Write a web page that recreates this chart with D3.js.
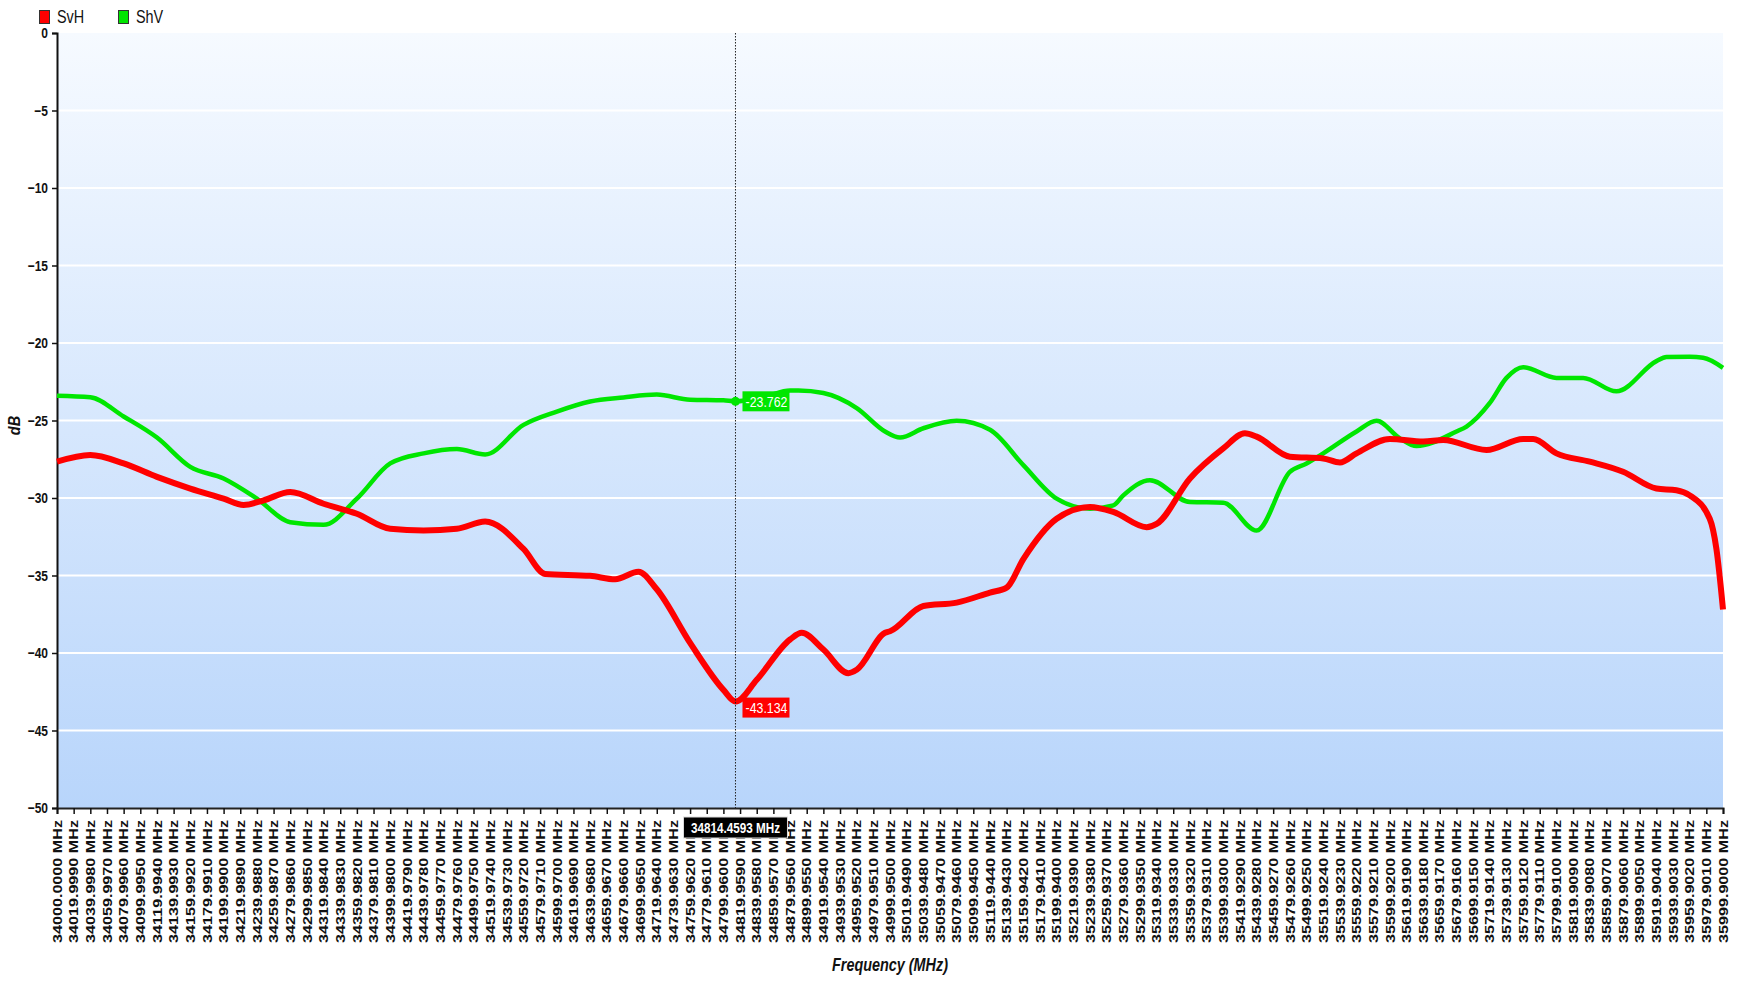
<!DOCTYPE html>
<html>
<head>
<meta charset="utf-8">
<script src="https://cdn.jsdelivr.net/npm/d3@7"></script>
<style>
body { margin: 0; background: #fff; }
svg { display: block; font-family: "Liberation Sans", Arial, sans-serif; }
</style>
</head>
<body>
<svg id="chart" width="1738" height="981"></svg>
<script>
// SvH trace (red)
const svhFreq = [34000, 34040, 34080, 34120, 34160, 34200, 34224, 34248, 34280, 34320, 34360, 34400, 34440, 34480,
    34514, 34560, 34586, 34640, 34670, 34698, 34720, 34760, 34800, 34814.4593, 34840, 34880, 34894, 34920, 34950, 34960, 34994,
    35000, 35040, 35080, 35120, 35140, 35160, 35200, 35240, 35268, 35308, 35320, 35360, 35400, 35426, 35440, 35480,
    35520, 35540, 35560, 35600, 35640, 35664, 35716, 35760, 35772, 35800, 35840, 35880, 35920, 35944, 35960, 35984, 35992, 35999.9];
const svhDb = [-27.66, -27.23, -27.77, -28.64, -29.39, -30.04, -30.45, -30.15, -29.61, -30.37, -31.02, -31.99, -32.10, -31.99,
    -31.52, -33.29, -34.9, -35.02, -35.24, -34.76, -35.89, -39.35, -42.38, -43.134, -41.73, -39.13, -38.7, -39.78, -41.3, -41.08, -38.7,
    -38.6, -36.97, -36.75, -36.1, -35.78, -33.94, -31.34, -30.58, -30.9, -31.88, -31.67, -28.74, -26.8, -25.82, -26.04, -27.34,
    -27.45, -27.71, -27.12, -26.19, -26.36, -26.26, -26.9, -26.19, -26.19, -27.12, -27.66, -28.31, -29.39, -29.5, -29.83, -31.34, -33.29, -37.19];

// ShV trace (green)
const shvFreq = [34000, 34040, 34080, 34120, 34160, 34200, 34240, 34280, 34320, 34360, 34400, 34440, 34480,
    34514, 34560, 34600, 34640, 34680, 34720, 34760, 34800, 34814.4593, 34850, 34880, 34890, 34920, 34960, 34994,
    35012, 35040, 35080, 35120, 35160, 35200, 35240, 35268, 35280, 35312, 35360, 35400, 35440, 35480,
    35500, 35520, 35560, 35584, 35612, 35632, 35680, 35692, 35720, 35740, 35760, 35800, 35832, 35872, 35920, 35932, 35960, 35976, 35999.9];
const shvDb = [-23.4, -23.5, -24.74, -26.1, -27.99, -28.74, -30.04, -31.56, -31.73, -30.04, -27.77, -27.12, -26.84,
    -27.19, -25.28, -24.42, -23.77, -23.51, -23.33, -23.66, -23.7, -23.762, -23.45, -23.07, -23.07, -23.23, -24.2, -25.71,
    -26.1, -25.5, -25.02, -25.6, -27.88, -30.04, -30.69, -30.48, -29.83, -28.85, -30.26, -30.3, -32.1, -28.31,
    -27.77, -27.12, -25.71, -25.02, -26.15, -26.65, -25.71, -25.39, -23.87, -22.25, -21.56, -22.25, -22.25, -23.12, -21.17, -20.91, -20.89, -20.95, -21.6];

const seriesNames = ["SvH", "ShV"];
const seriesColors = ["#ff0000", "#00e600"];
const yTickValues = [0, -5, -10, -15, -20, -25, -30, -35, -40, -45, -50];
const xTickStart = 34000, xTickStep = 19.999, xTickCount = 101;
const cursorFreq = 34814.4593;
const cursorValues = [-43.134, -23.762];

const plotLeft = 57, plotRight = 1723, plotTop = 33, plotBottom = 808;
const svg = d3.select("#chart");

// squeeze text horizontally, the original uses a condensed face
function narrow(sel, k) {
    sel.each(function(){
        var w = this.getComputedTextLength();
        d3.select(this).attr("textLength", w * k).attr("lengthAdjust", "spacingAndGlyphs");
    });
}

var x = d3.scaleLinear().domain([34000, 35999.9]).range([plotLeft, plotRight]);
var y = d3.scaleLinear().domain([-50, 0]).range([plotBottom, plotTop]);

// background gradient
var grad = svg.append("defs").append("linearGradient")
    .attr("id", "bg").attr("x1", 0).attr("y1", 0).attr("x2", 0).attr("y2", 1);
grad.append("stop").attr("offset", "0%").attr("stop-color", "#f6faff");
grad.append("stop").attr("offset", "100%").attr("stop-color", "#b8d5fb");

svg.append("rect")
    .attr("x", plotLeft).attr("y", plotTop)
    .attr("width", plotRight - plotLeft).attr("height", plotBottom - plotTop)
    .attr("fill", "url(#bg)");

// horizontal grid
svg.append("g").selectAll("line")
    .data(yTickValues.filter(function(d){ return d != 0 && d != -50; }))
    .enter().append("line")
    .attr("x1", plotLeft).attr("x2", plotRight)
    .attr("y1", function(d){ return y(d); }).attr("y2", function(d){ return y(d); })
    .attr("stroke", "#ffffff").attr("stroke-width", 2);

// y axis
var yAxis = svg.append("g")
    .attr("transform", "translate(" + plotLeft + ",0)")
    .call(d3.axisLeft(y).tickValues(yTickValues).tickSize(5).tickPadding(4).tickFormat(d3.format("d")));
yAxis.select(".domain").attr("stroke", "#111").attr("stroke-width", 2);
yAxis.selectAll(".tick line").attr("stroke", "#111").attr("stroke-width", 1.5);
yAxis.selectAll("text")
    .attr("fill", "#111").attr("font-size", 15).attr("font-weight", "bold")
    .attr("font-family", "\"Liberation Sans\", Arial, sans-serif")
    .call(narrow, 0.8);

// x axis
var xTicks = d3.range(xTickCount).map(function(i){ return xTickStart + i * xTickStep; });
var xAxis = svg.append("g")
    .attr("transform", "translate(0," + plotBottom + ")")
    .call(d3.axisBottom(x).tickValues(xTicks).tickSize(6)
        .tickFormat(function(d){ return d.toFixed(4) + " MHz"; }));
xAxis.select(".domain").attr("stroke", "#222").attr("stroke-width", 2);
xAxis.selectAll(".tick line").attr("stroke", "#111").attr("stroke-width", 1.5);
xAxis.selectAll("text")
    .attr("transform", "rotate(-90)")
    .attr("text-anchor", "end")
    .attr("x", -12).attr("y", 0).attr("dy", "0.35em")
    .attr("fill", "#111").attr("font-size", 12).attr("font-weight", "bold")
    .attr("font-family", "\"Liberation Sans\", Arial, sans-serif")
    .attr("textLength", 123).attr("lengthAdjust", "spacingAndGlyphs");

// axis titles
svg.append("text")
    .attr("transform", "translate(20," + ((plotTop + plotBottom) / 2 + 5) + ") rotate(-90)")
    .attr("text-anchor", "middle")
    .attr("font-size", 17).attr("font-weight", "bold").attr("font-style", "italic")
    .attr("fill", "#111").text("dB")
    .call(narrow, 0.85);
svg.append("text")
    .attr("x", (plotLeft + plotRight) / 2).attr("y", 971)
    .attr("text-anchor", "middle")
    .attr("font-size", 18).attr("font-weight", "bold").attr("font-style", "italic")
    .attr("fill", "#111").text("Frequency (MHz)")
    .call(narrow, 0.8);

// traces
var line = d3.line()
    .x(function(d){ return x(d[0]); })
    .y(function(d){ return y(d[1]); })
    .curve(d3.curveMonotoneX);

var traces = [
    {name: seriesNames[1], color: seriesColors[1], width: 4.5, pts: d3.zip(shvFreq, shvDb)},
    {name: seriesNames[0], color: seriesColors[0], width: 6, pts: d3.zip(svhFreq, svhDb)}
];
svg.append("g").selectAll("path")
    .data(traces)
    .enter().append("path")
    .attr("d", function(d){ return line(d.pts); })
    .attr("fill", "none")
    .attr("stroke", function(d){ return d.color; })
    .attr("stroke-width", function(d){ return d.width; })
    .attr("stroke-linejoin", "round");

// cursor line
var cx = x(cursorFreq);
svg.append("line")
    .attr("x1", cx).attr("x2", cx).attr("y1", plotTop).attr("y2", plotBottom)
    .attr("stroke", "#222").attr("stroke-width", 1).attr("stroke-dasharray", "1.5,1.5");

// cursor value boxes
var boxes = svg.append("g").selectAll("g")
    .data(cursorValues.map(function(v, i){ return {v: v, color: seriesColors[i], dy: i == 0 ? 6 : 0}; }))
    .enter().append("g")
    .attr("transform", function(d){ return "translate(" + (cx + 7) + "," + (y(d.v) + d.dy) + ")"; });
boxes.append("rect")
    .attr("x", 0).attr("y", -10).attr("width", 47).attr("height", 20)
    .attr("fill", function(d){ return d.color; });
boxes.append("text")
    .attr("x", 24).attr("y", 0).attr("dy", "0.36em").attr("text-anchor", "middle")
    .attr("fill", "#fff").attr("font-size", 15)
    .text(function(d){ return d.v.toFixed(3); })
    .call(narrow, 0.82);

svg.append("circle")
    .attr("cx", cx).attr("cy", y(cursorValues[1])).attr("r", 4.5)
    .attr("fill", seriesColors[1]);

// frequency box on the x axis
var fb = svg.append("g").attr("transform", "translate(" + cx + ",827)");
fb.append("rect")
    .attr("x", -52).attr("y", -10).attr("width", 104).attr("height", 21)
    .attr("fill", "#000").attr("stroke", "#ddd").attr("stroke-width", 1);
fb.append("text")
    .attr("x", 0).attr("dy", "0.38em").attr("text-anchor", "middle")
    .attr("fill", "#fff").attr("font-size", 15).attr("font-weight", "bold")
    .text(cursorFreq.toFixed(4) + " MHz")
    .call(narrow, 0.78);

// legend
var legend = svg.append("g").selectAll("g")
    .data(seriesNames)
    .enter().append("g")
    .attr("transform", function(d, i){ return "translate(" + (39 + i * 79) + ",10)"; });
legend.append("rect")
    .attr("x", 0.5).attr("y", 0.5).attr("width", 10).attr("height", 13)
    .attr("fill", function(d, i){ return seriesColors[i]; })
    .attr("stroke", "#333").attr("stroke-width", 1);
legend.append("text")
    .attr("x", 18).attr("y", 7).attr("dy", "0.36em")
    .attr("font-size", 18).attr("fill", "#111")
    .text(function(d){ return d; })
    .call(narrow, 0.8);
</script>
</body>
</html>
